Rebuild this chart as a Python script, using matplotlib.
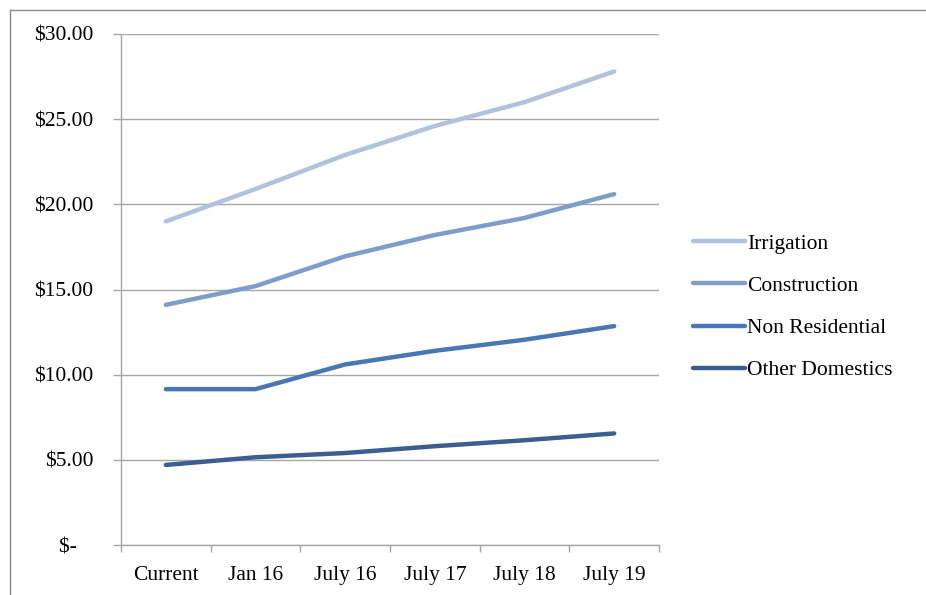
import matplotlib.pyplot as plt
from matplotlib.lines import Line2D

plt.rcParams['font.family'] = ['Liberation Serif', 'DejaVu Serif']

periods = ["Current", "Jan 16", "July 16", "July 17", "July 18", "July 19"]
irrigation = [19.0, 20.9, 22.9, 24.6, 26.0, 27.8]
construction = [14.1, 15.2, 16.95, 18.2, 19.2, 20.6]
non_residential = [9.15, 9.15, 10.6, 11.4, 12.05, 12.85]
other_domestics = [4.7, 5.15, 5.4, 5.8, 6.15, 6.55]

series = [
    ("Irrigation", irrigation, "#AFC2DF"),
    ("Construction", construction, "#7D9DCC"),
    ("Non Residential", non_residential, "#4977B3"),
    ("Other Domestics", other_domestics, "#3A5E8F"),
]

grid_c = "#A6A6A6"
fs = 15.5

fig = plt.figure(figsize=(9.26, 5.95), dpi=100)
ax = fig.add_axes([121/926, 1-545/595, (659-121)/926, (545-34)/595])

x = [i + 0.5 for i in range(len(periods))]
for name, vals, col in series:
    ax.plot(x, vals, color=col, lw=3.2, solid_capstyle='round', label=name)

ax.set_xlim(0, len(periods))
ax.set_ylim(0, 30)
ax.set_yticks([0, 5, 10, 15, 20, 25, 30])
ax.set_yticklabels(["$-\u00a0\u00a0\u00a0", "$5.00", "$10.00", "$15.00", "$20.00", "$25.00", "$30.00"])
ax.set_xticks(range(len(periods) + 1))
ax.set_xticklabels([])
ax.set_xticks(x, minor=True)
ax.set_xticklabels(periods, minor=True)
ax.tick_params(axis='x', which='major', length=5, color=grid_c, width=1)
ax.tick_params(axis='x', which='minor', length=0, pad=15, labelsize=fs)
ax.tick_params(axis='y', length=6, color=grid_c, width=1, pad=14, labelsize=fs)
ax.yaxis.grid(True, color=grid_c, lw=1)
ax.set_axisbelow(True)
for s in ['top', 'right']:
    ax.spines[s].set_visible(False)
for s in ['left', 'bottom']:
    ax.spines[s].set_color(grid_c)
    ax.spines[s].set_linewidth(1)

handles = [Line2D([], [], color=c, lw=3.2, solid_capstyle='round') for _, _, c in series]
fig.legend(handles, [n for n, _, _ in series], loc='center left',
           bbox_to_anchor=(693/926, 1-307/595), frameon=False, fontsize=fs,
           handlelength=2.4, handletextpad=0.1, labelspacing=1.02,
           borderpad=0, borderaxespad=0)

# outer frame of the chart area
fig.add_artist(Line2D([10/926, 10/926], [0, 1-10/595], transform=fig.transFigure, color="#8C8C8C", lw=1))
fig.add_artist(Line2D([10/926, 1], [1-10/595, 1-10/595], transform=fig.transFigure, color="#8C8C8C", lw=1))

fig.savefig("out.png", dpi=100)
